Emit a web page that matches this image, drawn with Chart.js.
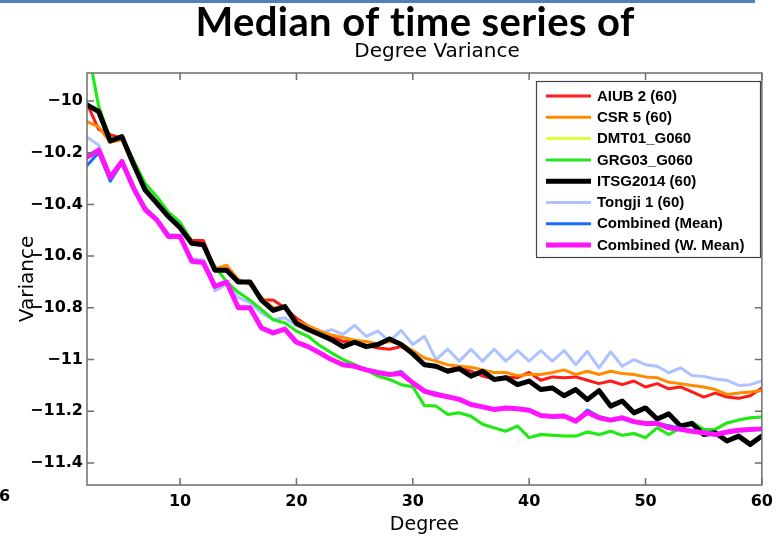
<!DOCTYPE html>
<html><head><meta charset="utf-8">
<script src="https://cdn.jsdelivr.net/npm/chart.js@4/dist/chart.umd.min.js"></script>
<style>html,body{margin:0;padding:0;background:#fff;overflow:hidden}</style>
</head><body>
<canvas id="c" width="780" height="537"></canvas>
<script>
const degrees = [2,3,4,5,6,7,8,9,10,11,12,13,14,15,16,17,18,19,20,21,22,23,24,25,26,27,28,29,30,31,32,33,34,35,36,37,38,39,40,41,42,43,44,45,46,47,48,49,50,51,52,53,54,55,56,57,58,59,60];

const aiub2 = [-10.01,-10.11,-10.13,-10.145,-10.25,-10.34,-10.40,-10.445,-10.49,-10.54,-10.54,-10.65,-10.65,-10.70,-10.70,-10.77,-10.77,-10.80,-10.84,-10.87,-10.89,-10.91,-10.93,-10.93,-10.945,-10.955,-10.96,-10.95,-10.975,-11.02,-11.03,-11.04,-11.03,-11.045,-11.064,-11.075,-11.067,-11.07,-11.05,-11.08,-11.067,-11.07,-11.067,-11.08,-11.093,-11.083,-11.097,-11.083,-11.106,-11.093,-11.113,-11.106,-11.125,-11.145,-11.13,-11.145,-11.15,-11.14,-11.11];

const csr5 = [-10.08,-10.10,-10.16,-10.15,-10.25,-10.34,-10.40,-10.45,-10.49,-10.55,-10.56,-10.65,-10.635,-10.69,-10.71,-10.76,-10.80,-10.80,-10.85,-10.87,-10.89,-10.905,-10.915,-10.925,-10.93,-10.94,-10.93,-10.94,-10.965,-10.994,-11.006,-11.02,-11.026,-11.03,-11.04,-11.05,-11.05,-11.062,-11.058,-11.058,-11.05,-11.04,-11.058,-11.045,-11.058,-11.045,-11.054,-11.058,-11.067,-11.07,-11.088,-11.093,-11.10,-11.106,-11.116,-11.135,-11.129,-11.125,-11.12];

const dmt01 = [-9.78,-10.02,-10.15,-10.14,-10.23,-10.32,-10.37,-10.43,-10.47,-10.54,-10.56,-10.64,-10.70,-10.74,-10.77,-10.807,-10.846,-10.858,-10.89,-10.91,-10.946,-10.974,-11.0,-11.02,-11.04,-11.064,-11.077,-11.097,-11.105,-11.178,-11.18,-11.212,-11.206,-11.219,-11.25,-11.264,-11.277,-11.257,-11.302,-11.29,-11.293,-11.296,-11.296,-11.28,-11.29,-11.277,-11.293,-11.286,-11.302,-11.264,-11.29,-11.264,-11.242,-11.27,-11.27,-11.245,-11.234,-11.225,-11.222];

const grg03 = [-9.78,-10.02,-10.15,-10.14,-10.23,-10.32,-10.37,-10.43,-10.47,-10.54,-10.56,-10.64,-10.70,-10.74,-10.77,-10.807,-10.846,-10.858,-10.89,-10.91,-10.946,-10.974,-11.0,-11.02,-11.04,-11.064,-11.077,-11.097,-11.105,-11.178,-11.18,-11.212,-11.206,-11.219,-11.25,-11.264,-11.277,-11.257,-11.302,-11.29,-11.293,-11.296,-11.296,-11.28,-11.29,-11.277,-11.293,-11.286,-11.302,-11.264,-11.29,-11.264,-11.242,-11.27,-11.27,-11.245,-11.234,-11.225,-11.222];

const itsg2014 = [-10.015,-10.041,-10.155,-10.138,-10.245,-10.345,-10.395,-10.447,-10.49,-10.55,-10.556,-10.655,-10.655,-10.70,-10.70,-10.77,-10.81,-10.795,-10.86,-10.884,-10.903,-10.923,-10.95,-10.933,-10.95,-10.942,-10.92,-10.942,-10.978,-11.02,-11.026,-11.045,-11.035,-11.064,-11.045,-11.077,-11.07,-11.097,-11.083,-11.116,-11.11,-11.14,-11.116,-11.155,-11.12,-11.18,-11.16,-11.206,-11.187,-11.23,-11.21,-11.257,-11.247,-11.29,-11.283,-11.315,-11.296,-11.328,-11.296];

const tongji1 = [-10.14,-10.17,-10.29,-10.235,-10.33,-10.41,-10.455,-10.515,-10.52,-10.61,-10.615,-10.735,-10.71,-10.76,-10.78,-10.82,-10.846,-10.838,-10.87,-10.878,-10.90,-10.884,-10.903,-10.868,-10.91,-10.89,-10.929,-10.887,-10.942,-10.91,-11.0,-10.96,-11.006,-10.96,-11.006,-10.96,-11.006,-10.965,-11.006,-10.965,-11.006,-10.965,-11.02,-10.968,-11.032,-10.97,-11.026,-11.0,-11.02,-11.026,-11.051,-11.032,-11.062,-11.065,-11.075,-11.08,-11.1,-11.097,-11.083];

const combinedMean = [-10.25,-10.20,-10.31,-10.24,-10.337,-10.42,-10.46,-10.524,-10.524,-10.62,-10.625,-10.717,-10.70,-10.80,-10.80,-10.878,-10.897,-10.882,-10.933,-10.95,-10.974,-11.0,-11.02,-11.026,-11.04,-11.05,-11.058,-11.046,-11.09,-11.122,-11.13,-11.144,-11.154,-11.174,-11.183,-11.193,-11.187,-11.19,-11.196,-11.216,-11.22,-11.218,-11.238,-11.195,-11.22,-11.234,-11.225,-11.24,-11.247,-11.247,-11.256,-11.265,-11.277,-11.283,-11.29,-11.28,-11.273,-11.27,-11.268];

const combinedWMean = [-10.217,-10.19,-10.295,-10.234,-10.337,-10.42,-10.46,-10.524,-10.524,-10.62,-10.625,-10.717,-10.70,-10.80,-10.80,-10.878,-10.897,-10.882,-10.933,-10.95,-10.974,-11.0,-11.02,-11.026,-11.04,-11.05,-11.058,-11.054,-11.09,-11.122,-11.135,-11.144,-11.154,-11.174,-11.183,-11.193,-11.187,-11.19,-11.196,-11.216,-11.22,-11.218,-11.238,-11.205,-11.225,-11.234,-11.225,-11.24,-11.247,-11.247,-11.264,-11.27,-11.277,-11.283,-11.29,-11.28,-11.273,-11.27,-11.268];

const seriesLabels = ['AIUB 2 (60)','CSR 5 (60)','DMT01_G060','GRG03_G060','ITSG2014 (60)','Tongji 1 (60)','Combined (Mean)','Combined (W. Mean)'];
const xTicks = [10,20,30,40,50,60];
const yTicks = [-11.4,-11.2,-11,-10.8,-10.6,-10.4,-10.2,-10];
const titleText = 'Median of time series of';
const subtitleText = 'Degree Variance';
const xTitle = 'Degree';
const yTitle = 'Variance';

const seriesValues = [aiub2, csr5, dmt01, grg03, itsg2014, tongji1, combinedMean, combinedWMean];
const colors = ['#ff1a1a','#ff8c00','#d8ff3a','#1ee81e','#000000','#adc2ff','#1a6cff','#ff14ff'];
const widths = [3,3,3,3,5,3,3,5];
const drawOrder = [4,3,7,5,2,6,1,0];

const datasets = seriesValues.map((vals, i) => ({
  label: seriesLabels[i],
  data: vals,
  borderColor: colors[i],
  backgroundColor: colors[i],
  borderWidth: widths[i],
  pointRadius: 0,
  tension: 0,
  borderJoinStyle: 'round',
  borderCapStyle: 'round',
  fill: false,
  clip: 0,
  order: drawOrder[i]
}));

function fmt(v) {
  const a = Math.abs(v);
  let s = (Math.round(a * 10) / 10).toString();
  return (v < 0 ? '\u2212' : '') + s;
}

const FONT = '"DejaVu Sans", Verdana, sans-serif';

const decor = {
  id: 'decor',
  beforeDraw(chart) {
    const ctx = chart.ctx;
    ctx.save();
    ctx.fillStyle = '#fff';
    ctx.fillRect(0, 0, chart.width, chart.height);
    ctx.restore();
  },
  afterDraw(chart) {
    const ctx = chart.ctx;
    const a = chart.chartArea;
    const xs = chart.scales.x, ys = chart.scales.y;
    ctx.save();
    // axes box
    ctx.strokeStyle = '#6e6e6e';
    ctx.lineWidth = 1.5;
    ctx.strokeRect(a.left, a.top, a.right - a.left, a.bottom - a.top);
    // inward ticks
    ctx.beginPath();
    xTicks.forEach(t => {
      const px = xs.getPixelForValue(t);
      ctx.moveTo(px, a.bottom); ctx.lineTo(px, a.bottom - 7);
      ctx.moveTo(px, a.top); ctx.lineTo(px, a.top + 7);
    });
    yTicks.forEach(t => {
      const py = ys.getPixelForValue(t);
      ctx.moveTo(a.left, py); ctx.lineTo(a.left + 7, py);
      ctx.moveTo(a.right, py); ctx.lineTo(a.right - 7, py);
    });
    ctx.stroke();

    // legend
    const lx = 536.5, ly = 81.5, lw = 224, lh = 176;
    ctx.fillStyle = '#fff';
    ctx.fillRect(lx, ly, lw, lh);
    ctx.strokeStyle = '#444';
    ctx.lineWidth = 1.2;
    ctx.strokeRect(lx, ly, lw, lh);
    ctx.font = 'bold 15px "Liberation Sans", Arial, sans-serif';
    ctx.textBaseline = 'middle';
    ctx.textAlign = 'left';
    chart.data.datasets.forEach((ds, i) => {
      const y = 96 + i * 21.3;
      ctx.strokeStyle = ds.borderColor;
      ctx.lineWidth = ds.borderWidth;
      ctx.lineCap = 'butt';
      ctx.beginPath();
      ctx.moveTo(546, y); ctx.lineTo(591, y);
      ctx.stroke();
      ctx.fillStyle = '#000';
      ctx.fillText(ds.label, 597, y + 0.5);
    });

    // titles
    ctx.fillStyle = '#000';
    ctx.textAlign = 'center';
    ctx.textBaseline = 'middle';
    try { ctx.letterSpacing = '0.4px'; } catch (e) {}
    ctx.font = 'bold 40px Lato, "Open Sans", sans-serif';
    ctx.fillText(titleText, 415, 23);
    try { ctx.letterSpacing = '0px'; } catch (e) {}
    ctx.font = '20px ' + FONT;
    ctx.fillText(subtitleText, 437, 52);

    // stray fragment at left
    ctx.textAlign = 'left';
    ctx.font = 'bold 16px ' + FONT;
    ctx.fillText('6', -1, 497);

    // top decorative rule
    ctx.fillStyle = '#4f81bd';
    ctx.fillRect(0, 0, 755, 3);
    ctx.restore();
  }
};

new Chart(document.getElementById('c'), {
  type: 'line',
  data: { labels: degrees, datasets },
  plugins: [decor],
  options: {
    responsive: false,
    animation: false,
    layout: { padding: { top: 73, right: 15, left: 0, bottom: 0 } },
    plugins: { legend: { display: false }, tooltip: { enabled: false }, title: { display: false } },
    scales: {
      x: {
        type: 'linear', min: 2, max: 60,
        grid: { display: false, drawTicks: false },
        border: { display: false },
        afterBuildTicks: s => { s.ticks = xTicks.map(v => ({ value: v })); },
        afterFit: s => { s.height = 52; },
        ticks: { color: '#000', padding: 7, maxRotation: 0, autoSkip: false,
          font: { family: FONT, size: 16, weight: 'bold' } },
        title: { display: true, text: xTitle, color: '#000', padding: { top: 0, bottom: 1 },
          font: { family: FONT, size: 19 } }
      },
      y: {
        type: 'linear', min: -11.485, max: -9.892,
        grid: { display: false, drawTicks: false },
        border: { display: false },
        afterBuildTicks: s => { s.ticks = yTicks.map(v => ({ value: v })); },
        afterFit: s => { s.width = 87; },
        ticks: { color: '#000', padding: 4, autoSkip: false, callback: v => fmt(v),
          font: { family: FONT, size: 16, weight: 'bold' } },
        title: { display: true, text: yTitle, color: '#000', padding: { top: 16, bottom: 0 },
          font: { family: FONT, size: 20 } }
      }
    }
  }
});
</script>
</body></html>
